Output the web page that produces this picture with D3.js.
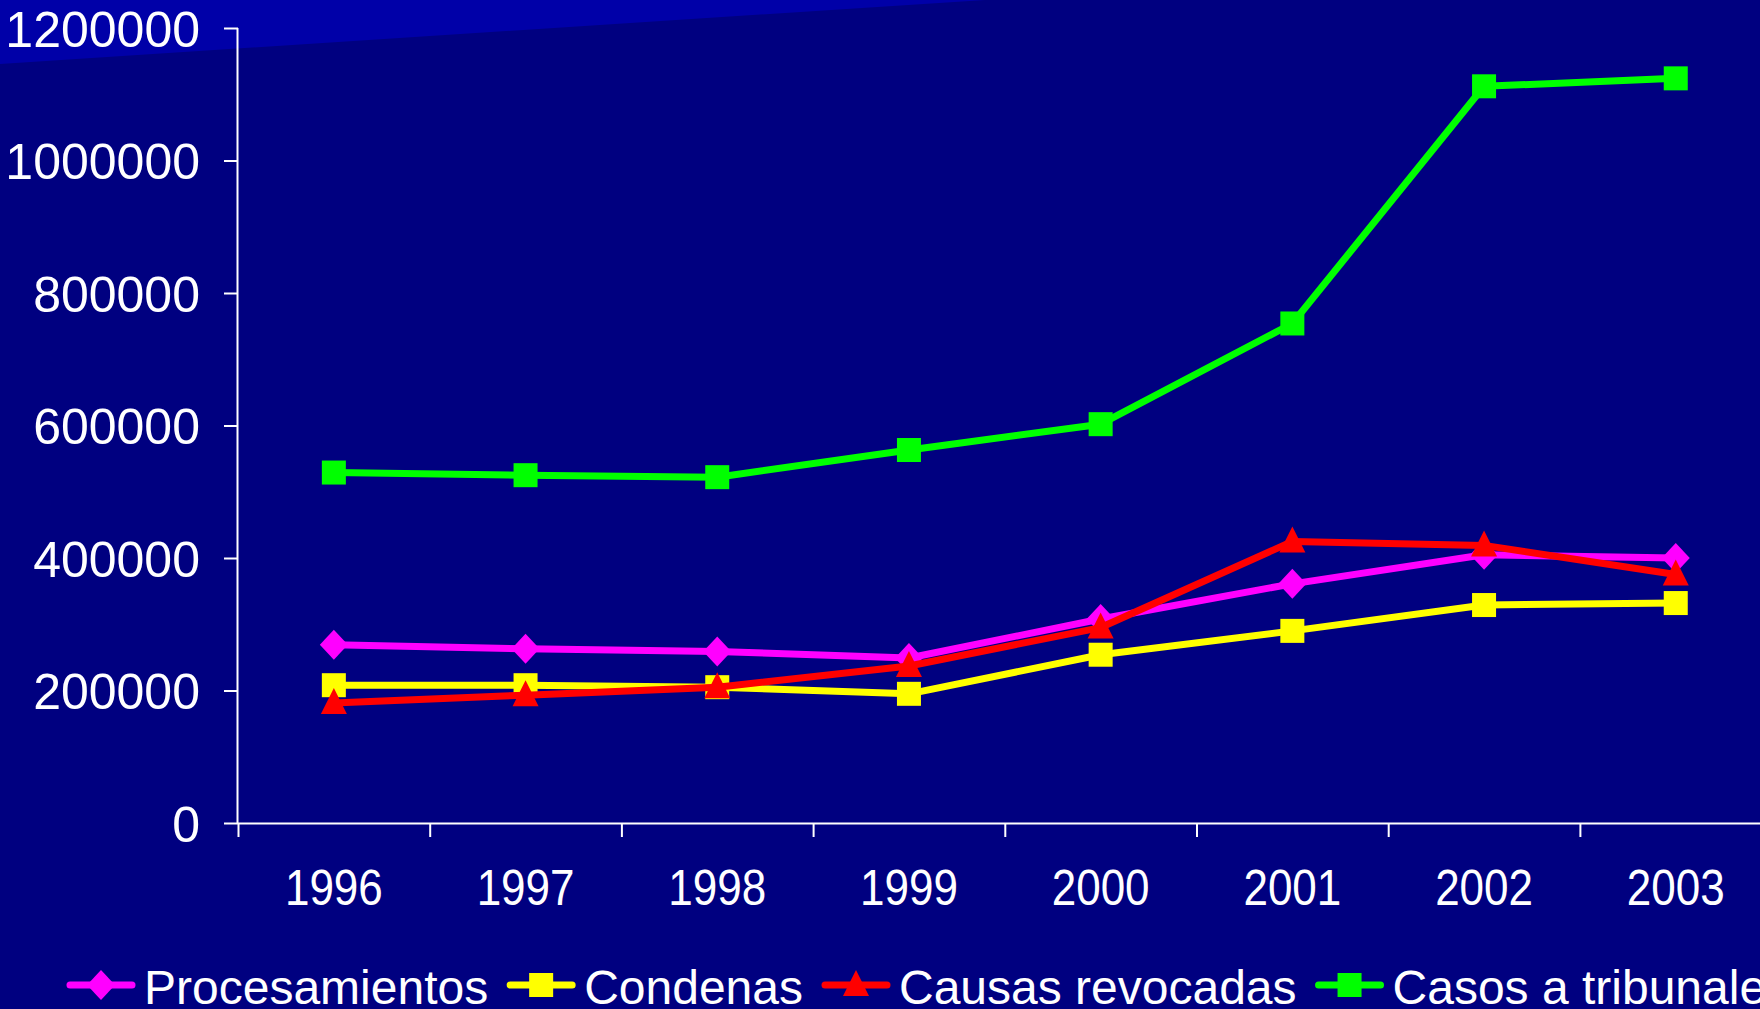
<!DOCTYPE html>
<html lang="es">
<head>
<meta charset="UTF-8">
<title>Casos a tribunales 1996-2003</title>
<script src="https://d3js.org/d3.v7.min.js"></script>
<style>
  html, body { margin: 0; padding: 0; overflow: hidden; background: #000080; }
  svg { display: block; font-family: "Liberation Sans", Arial, sans-serif; }
  .axis path, .axis line { stroke: #fff; stroke-width: 2; }
</style>
</head>
<body>
<svg width="1760" height="1009"></svg>
<script>
// datos
const years = ["1996", "1997", "1998", "1999", "2000", "2001", "2002", "2003"];
const procesamientos = [269000, 263000, 259000, 249000, 308000, 361000, 405000, 400000];
const condenas = [208000, 208000, 205000, 195000, 254000, 290000, 329000, 332000];
const causasRevocadas = [181000, 193000, 205000, 237000, 295000, 425000, 419000, 375000];
const casosTribunales = [529000, 525000, 522000, 563000, 602000, 754000, 1112000, 1124000];
const yTicks = [0, 200000, 400000, 600000, 800000, 1000000, 1200000];

const series = [
  { name: "Procesamientos", values: procesamientos, color: "#ff00ff", marker: "diamond" },
  { name: "Condenas", values: condenas, color: "#ffff00", marker: "square" },
  { name: "Causas revocadas", values: causasRevocadas, color: "#ff0000", marker: "triangle" },
  { name: "Casos a tribunales", values: casosTribunales, color: "#00ff00", marker: "square" }
];

const width = 1760, height = 1009;
const plotLeft = 238, plotBottom = 823, plotTop = 28;
const step = 191.7;

const svg = d3.select("svg");

// fondo con banda clara arriba a la izquierda
svg.append("rect").attr("width", width).attr("height", height).attr("fill", "#000080");
svg.append("path")
  .attr("d", "M0,0 L985,0 L0,64 Z")
  .attr("fill", "#0000a8");

const x = d3.scaleBand().domain(years).range([plotLeft, plotLeft + step * years.length]);
const xEdge = d3.scaleLinear().domain([0, years.length]).range([plotLeft, plotLeft + step * years.length]);
const y = d3.scaleLinear().domain([0, 1200000]).range([plotBottom, plotTop]);

// eje Y
const yAxis = svg.append("g")
  .attr("class", "axis")
  .attr("transform", `translate(${plotLeft},0)`)
  .call(d3.axisLeft(y).tickValues(yTicks).tickSize(14).tickPadding(24).tickFormat(d => d));
yAxis.select(".domain").attr("d", `M-0.5,${plotTop}V${plotBottom}`);
yAxis.selectAll("text")
  .attr("fill", "#fff")
  .style("font-size", "50px")
  .attr("dy", "0.36em");

// eje X
const xAxis = svg.append("g")
  .attr("class", "axis")
  .attr("transform", `translate(0,${plotBottom})`)
  .call(d3.axisBottom(xEdge).tickValues(d3.range(years.length + 1)).tickSize(14).tickFormat(""));
xAxis.select(".domain").attr("d", `M${plotLeft},0.5H${width}`);

svg.append("g").selectAll("text")
  .data(years)
  .join("text")
  .attr("transform", d => `translate(${x(d) + x.bandwidth() / 2},905) scale(0.88,1)`)
  .attr("text-anchor", "middle")
  .attr("fill", "#fff")
  .style("font-size", "50px")
  .text(d => d);

// marcadores
function drawMarker(g, type, color, cx, cy) {
  if (type === "square") {
    g.append("rect").attr("x", cx - 12).attr("y", cy - 12)
      .attr("width", 24).attr("height", 24).attr("fill", color);
  } else if (type === "diamond") {
    g.append("path")
      .attr("d", `M${cx},${cy - 15}L${cx + 14},${cy}L${cx},${cy + 15}L${cx - 14},${cy}Z`)
      .attr("fill", color);
  } else {
    g.append("path")
      .attr("d", `M${cx},${cy - 15}L${cx + 13},${cy + 11}L${cx - 13},${cy + 11}Z`)
      .attr("fill", color);
  }
}

const line = d3.line()
  .x((d, i) => x(years[i]) + x.bandwidth() / 2)
  .y(d => y(d));

series.forEach(s => {
  const g = svg.append("g");
  g.append("path")
    .datum(s.values)
    .attr("d", line)
    .attr("fill", "none")
    .attr("stroke", s.color)
    .attr("stroke-width", 7)
    .attr("stroke-linejoin", "round");
  s.values.forEach((v, i) => drawMarker(g, s.marker, s.color, x(years[i]) + x.bandwidth() / 2, y(v)));
});

// leyenda
const legend = svg.append("g");
let lx = 70;
const ly = 985;
series.forEach(s => {
  const g = legend.append("g");
  g.append("line")
    .attr("x1", lx).attr("x2", lx + 62)
    .attr("y1", ly).attr("y2", ly)
    .attr("stroke", s.color).attr("stroke-width", 7)
    .attr("stroke-linecap", "round");
  drawMarker(g, s.marker, s.color, lx + 31, ly);
  const t = g.append("text")
    .attr("x", lx + 74)
    .attr("y", ly + 19)
    .attr("fill", "#fff")
    .style("font-size", "48px")
    .text(s.name);
  lx += 74 + t.node().getComputedTextLength() + 22;
});
</script>
</body>
</html>
